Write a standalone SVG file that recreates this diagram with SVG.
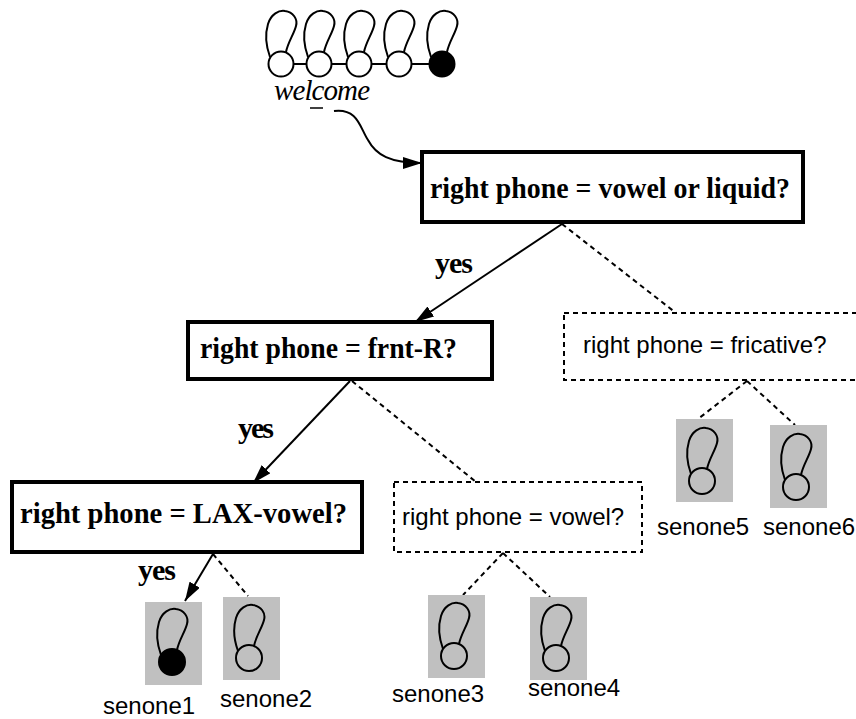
<svg xmlns="http://www.w3.org/2000/svg" width="856" height="719" viewBox="0 0 856 719">
<style>
.bx{fill:#fff;stroke:#000;stroke-width:4}
.dbx{fill:#fff;stroke:#000;stroke-width:2;stroke-dasharray:5,4}
.tb{font-family:"Liberation Serif","Times New Roman",serif;font-weight:bold;font-size:30px;fill:#000}
.ts{font-family:"Liberation Sans",Arial,sans-serif;font-size:24px;fill:#000}
.sol{fill:none;stroke:#000;stroke-width:2}
.dsh{fill:none;stroke:#000;stroke-width:2;stroke-dasharray:5,4}
.sen{fill:#c0c0c0}
.lp{fill:none;stroke:#000;stroke-width:2}
.co{fill:#fff;stroke:#000;stroke-width:2}
.cn{fill:none;stroke:#000;stroke-width:2}
.cb{fill:#000;stroke:#000;stroke-width:2}
</style>
<defs>
<marker id="ah" markerUnits="userSpaceOnUse" markerWidth="20" markerHeight="12" refX="19" refY="6" orient="auto">
<path d="M0,0 L19,6 L0,12 z" fill="#000"/>
</marker>
<path id="loop" d="M-11,-7 C-15,-18 -16,-30 -13,-40 C-10,-50 -2,-54 4,-53 C12,-52 17,-45 15,-38 C13,-30 7,-22 5,-12"/>
</defs>

<g id="hmm">
<line x1="281" y1="64" x2="442" y2="64" stroke="#000" stroke-width="2"/>
<use href="#loop" x="281" y="64" class="lp"/>
<use href="#loop" x="319" y="64" class="lp"/>
<use href="#loop" x="359" y="64" class="lp"/>
<use href="#loop" x="399" y="64" class="lp"/>
<use href="#loop" x="442" y="64" class="lp"/>
<circle cx="281" cy="64" r="12.5" class="co"/>
<circle cx="319" cy="64" r="12.5" class="co"/>
<circle cx="359" cy="64" r="12.5" class="co"/>
<circle cx="399" cy="64" r="12.5" class="co"/>
<circle cx="442" cy="64" r="12.5" class="cb"/>
<text x="274" y="100" font-family="'Liberation Serif','Times New Roman',serif" font-style="italic" font-size="29" textLength="96">welcome</text>
<line x1="310" y1="108" x2="323" y2="108" stroke="#000" stroke-width="1.5"/>
</g>

<g id="connectors">
<path class="sol" d="M334,111 C358,108 360,128 368,140 C376,155 390,163 422,163" marker-end="url(#ah)"/>
<line class="sol" x1="562" y1="224" x2="415" y2="322" marker-end="url(#ah)"/>
<line class="sol" x1="350" y1="381" x2="253" y2="483" marker-end="url(#ah)"/>
<line class="sol" x1="213" y1="554" x2="185" y2="601" marker-end="url(#ah)"/>
<line class="dsh" x1="562" y1="224" x2="676" y2="313"/>
<line class="dsh" x1="352" y1="381" x2="476" y2="482"/>
<line class="dsh" x1="213" y1="554" x2="248" y2="596"/>
<line class="dsh" x1="503" y1="553" x2="463" y2="595"/>
<line class="dsh" x1="503" y1="553" x2="550" y2="597"/>
<line class="dsh" x1="747" y1="381" x2="698" y2="419"/>
<line class="dsh" x1="747" y1="381" x2="795" y2="425"/>
<text class="tb" x="435" y="273" textLength="38">yes</text>
<text class="tb" x="238" y="438" textLength="36">yes</text>
<text class="tb" x="138" y="580" textLength="38">yes</text>
</g>

<g id="q1">
<rect class="bx" x="422" y="152" width="381" height="70"/>
<text class="tb" x="430" y="198" textLength="360" lengthAdjust="spacingAndGlyphs">right phone = vowel or liquid?</text>
</g>
<g id="q2">
<rect class="bx" x="188" y="322" width="304" height="57"/>
<text class="tb" x="200" y="358" textLength="257" lengthAdjust="spacingAndGlyphs">right phone = frnt-R?</text>
</g>
<g id="q3">
<rect class="bx" x="12" y="482" width="350" height="70"/>
<text class="tb" x="20" y="523" textLength="327" lengthAdjust="spacingAndGlyphs">right phone = LAX-vowel?</text>
</g>
<g id="q4">
<rect class="dbx" x="564" y="313" width="310" height="67"/>
<text class="ts" x="583" y="353">right phone = fricative?</text>
</g>
<g id="q5">
<rect class="dbx" x="394" y="482" width="248" height="70"/>
<text class="ts" x="402" y="525">right phone = vowel?</text>
</g>

<g id="senone1">
<rect class="sen" x="145" y="602" width="57" height="83"/>
<use href="#loop" x="172" y="662" class="lp"/>
<circle cx="172" cy="662" r="13" class="cb"/>
<text class="ts" x="103" y="714">senone1</text>
</g>
<g id="senone2">
<rect class="sen" x="223" y="597" width="57" height="83"/>
<use href="#loop" x="249" y="658" class="lp"/>
<circle cx="249" cy="658" r="13" class="cn"/>
<text class="ts" x="220" y="707">senone2</text>
</g>
<g id="senone3">
<rect class="sen" x="428" y="595" width="57" height="83"/>
<use href="#loop" x="454" y="656" class="lp"/>
<circle cx="454" cy="656" r="13" class="cn"/>
<text class="ts" x="392" y="702">senone3</text>
</g>
<g id="senone4">
<rect class="sen" x="530" y="597" width="57" height="83"/>
<use href="#loop" x="556" y="658" class="lp"/>
<circle cx="556" cy="658" r="13" class="cn"/>
<text class="ts" x="528" y="696">senone4</text>
</g>
<g id="senone5">
<rect class="sen" x="676" y="419" width="57" height="83"/>
<use href="#loop" x="702" y="481" class="lp"/>
<circle cx="702" cy="481" r="13" class="cn"/>
<text class="ts" x="657" y="535">senone5</text>
</g>
<g id="senone6">
<rect class="sen" x="770" y="425" width="57" height="83"/>
<use href="#loop" x="796" y="487" class="lp"/>
<circle cx="796" cy="487" r="13" class="cn"/>
<text class="ts" x="763" y="535">senone6</text>
</g>
</svg>
